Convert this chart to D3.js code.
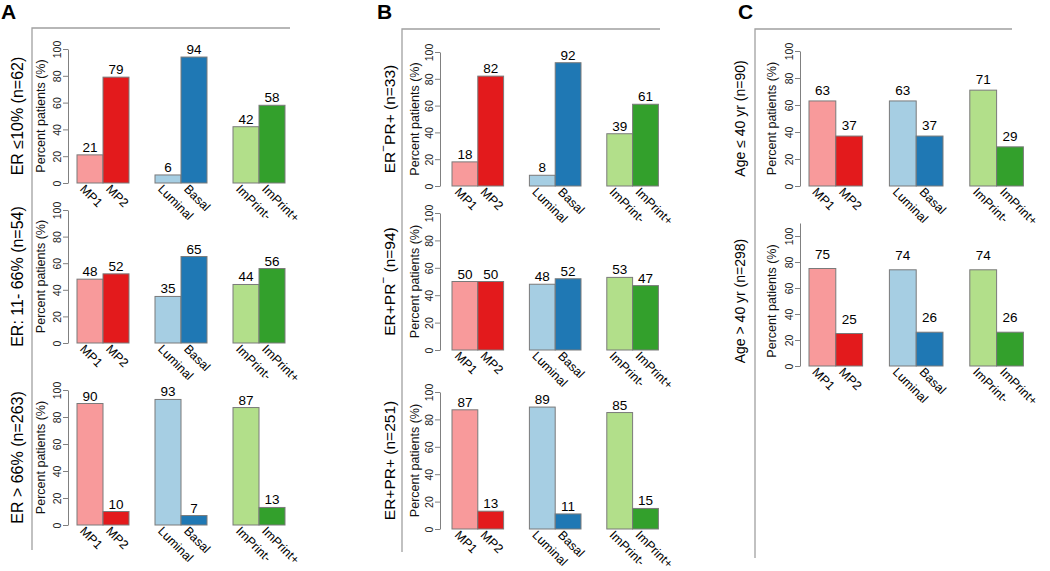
<!DOCTYPE html>
<html>
<head>
<meta charset="utf-8">
<script src="https://cdn.jsdelivr.net/npm/d3@7/dist/d3.min.js"></script>
<style>
  html, body { margin: 0; padding: 0; background: #fff; }
  svg { display: block; font-family: "Liberation Sans", Arial, Helvetica, sans-serif; }
</style>
</head>
<body>
<svg id="chart" width="1050" height="571"></svg>
<script>
// ---------------- data ----------------
const categories = ["MP1", "MP2", "Luminal", "Basal", "ImPrint-", "ImPrint+"];
const yTicks = [0, 20, 40, 60, 80, 100];

// Panel A: ER expression
const erLe10 = [21, 79, 6, 94, 42, 58];
const er11to66 = [48, 52, 35, 65, 44, 56];
const erGt66 = [90, 10, 93, 7, 87, 13];
// Panel B: ER / PR status
const erNegPrPos = [18, 82, 8, 92, 39, 61];
const erPosPrNeg = [50, 50, 48, 52, 53, 47];
const erPosPrPos = [87, 13, 89, 11, 85, 15];
// Panel C: age
const ageLe40 = [63, 37, 63, 37, 71, 29];
const ageGt40 = [75, 25, 74, 26, 74, 26];

const yAxisTitle = "Percent patients (%)";

// ---------------- styles ----------------
const barColors = ["#F89A9B", "#E31A1C", "#A6CEE3", "#1F78B4", "#B2DF8A", "#33A02C"];
const font = "'Liberation Sans', Arial, Helvetica, sans-serif";

// ---------------- layout ----------------
const panels = [
  { letter: "A", letterX: 1, frameX: 32, frameTop: 28, frameRight: 290, frameBottom: 550 },
  { letter: "B", letterX: 377, frameX: 402, frameTop: 29, frameRight: 660, frameBottom: 552 },
  { letter: "C", letterX: 738, frameX: 755, frameTop: 29, frameRight: 1012, frameBottom: 558 }
];

// label pieces are [text, isSuperscript]
const charts = [
  { values: erLe10, label: [["ER \u226410% (n=62)", false]], labelSize: 16, labelX: 17,
    axisX: 68, titleX: 41, x0: 77, bw: 26, y0: 183, y100: 49, axisMax: 100, valOff: 3 },
  { values: er11to66, label: [["ER: 11- 66% (n=54)", false]], labelSize: 16, labelX: 17,
    axisX: 68, titleX: 41, x0: 77, bw: 26, y0: 343, y100: 210, axisMax: 100, valOff: 3 },
  { values: erGt66, label: [["ER > 66% (n=263)", false]], labelSize: 16, labelX: 17,
    axisX: 68, titleX: 41, x0: 77, bw: 26, y0: 525, y100: 390, axisMax: 100, valOff: 3 },

  { values: erNegPrPos, label: [["ER", false], ["\u2212", true], ["PR+ (n=33)", false]], labelSize: 15.5, labelX: 389,
    axisX: 440, titleX: 415, x0: 452, bw: 25.8, y0: 186, y100: 52, axisMax: 100, valOff: 3 },
  { values: erPosPrNeg, label: [["ER+PR", false], ["\u2212", true], [" (n=94)", false]], labelSize: 15.5, labelX: 389,
    axisX: 440, titleX: 415, x0: 452, bw: 25.8, y0: 350, y100: 213, axisMax: 100, valOff: 3 },
  { values: erPosPrPos, label: [["ER+PR+ (n=251)", false]], labelSize: 15.5, labelX: 389,
    axisX: 440, titleX: 415, x0: 452, bw: 25.8, y0: 529, y100: 392, axisMax: 100, valOff: 3 },

  { values: ageLe40, label: [["Age  \u2264 40 yr (n=90)", false]], labelSize: 14, labelX: 740,
    axisX: 800, titleX: 772, x0: 809, bw: 26.8, y0: 186, y100: 51, axisMax: 100, valOff: 6 },
  { values: ageGt40, label: [["Age > 40 yr (n=298)", false]], labelSize: 14, labelX: 740,
    axisX: 800, titleX: 772, x0: 809, bw: 26.8, y0: 366, y100: 236, axisMax: 110, valOff: 10 }
];

// ---------------- drawing ----------------
const svg = d3.select("#chart");

panels.forEach(p => {
  svg.append("path")
    .attr("d", `M${p.frameX},${p.frameBottom}V${p.frameTop}H${p.frameRight}`)
    .attr("fill", "none").attr("stroke", "#a0a0a0").attr("stroke-width", 1.3);
  svg.append("text")
    .attr("x", p.letterX).attr("y", 19)
    .attr("font-size", 21).attr("font-weight", "bold").attr("fill", "#000")
    .text(p.letter);
});

// slot index: two bars per group, one empty slot between groups
const slotOf = i => i + Math.floor(i / 2);

charts.forEach(c => {
  const g = svg.append("g");
  const nSlots = slotOf(categories.length - 1) + 1;
  const x = d3.scaleLinear().domain([0, nSlots]).range([c.x0, c.x0 + nSlots * c.bw]);
  const y = d3.scaleLinear().domain([0, 100]).range([c.y0, c.y100]);

  // y axis
  const yAxisScale = y.copy().domain([0, c.axisMax]).range([c.y0, y(c.axisMax)]);
  const axis = d3.axisLeft(yAxisScale).tickValues(yTicks).tickSize(5).tickSizeOuter(0);
  const ax = g.append("g").attr("transform", `translate(${c.axisX},0)`).call(axis);
  ax.select(".domain").attr("stroke", "#808080").attr("stroke-width", 1);
  ax.selectAll(".tick line").attr("stroke", "#808080").attr("stroke-width", 1);
  ax.selectAll(".tick text")
    .attr("transform", "rotate(-90)")
    .attr("x", 0).attr("y", -7).attr("dy", 0)
    .attr("text-anchor", "middle")
    .attr("font-size", 10.5).attr("font-family", font).attr("fill", "#222");

  // y-axis title
  const cy = (c.y0 + c.y100) / 2;
  g.append("text")
    .attr("transform", `translate(${c.titleX},${cy}) rotate(-90)`)
    .attr("text-anchor", "middle").attr("dominant-baseline", "central")
    .attr("font-size", 12.5).attr("fill", "#111")
    .text(yAxisTitle);

  // row label
  const lt = g.append("text")
    .attr("transform", `translate(${c.labelX},${cy}) rotate(-90)`)
    .attr("text-anchor", "middle").attr("dominant-baseline", "central")
    .attr("font-size", c.labelSize).attr("fill", "#000");
  c.label.forEach(([t, sup]) => {
    const ts = lt.append("tspan").text(t);
    if (sup) ts.attr("baseline-shift", "super").attr("font-size", c.labelSize * 0.75);
  });

  // bars
  g.selectAll("rect.bar").data(c.values).join("rect")
    .attr("class", "bar")
    .attr("x", (d, i) => x(slotOf(i)))
    .attr("width", (d, i) => x(slotOf(i) + 1) - x(slotOf(i)))
    .attr("y", d => y(d))
    .attr("height", d => y(0) - y(d))
    .attr("fill", (d, i) => barColors[i])
    .attr("stroke", "#7a7a7a").attr("stroke-width", 1);

  // value labels
  g.selectAll("text.val").data(c.values).join("text")
    .attr("class", "val")
    .attr("x", (d, i) => (x(slotOf(i)) + x(slotOf(i) + 1)) / 2)
    .attr("y", d => y(d) - c.valOff)
    .attr("text-anchor", "middle")
    .attr("font-size", 13.5).attr("fill", "#000")
    .text(d => d);

  // category labels (rotated 45°)
  g.selectAll("text.cat").data(categories).join("text")
    .attr("class", "cat")
    .attr("transform", (d, i) => {
      const cx = (x(slotOf(i)) + x(slotOf(i) + 1)) / 2 - 8;
      return `translate(${cx},${c.y0 + 4}) rotate(45)`;
    })
    .attr("text-anchor", "start").attr("dominant-baseline", "central")
    .attr("font-size", 12.5).attr("fill", "#000")
    .text(d => d);
});
</script>
</body>
</html>
